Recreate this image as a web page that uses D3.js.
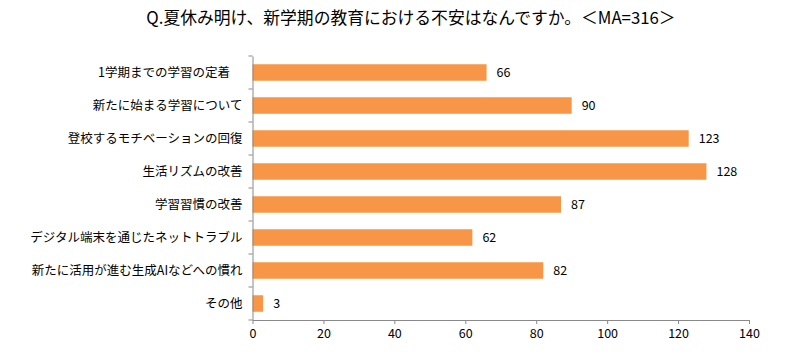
<!DOCTYPE html>
<html><head><meta charset="utf-8">
<script src="https://cdn.jsdelivr.net/npm/d3@7/dist/d3.min.js"></script>
<style>body{margin:0;background:#fff}svg{display:block}text{font-family:"Noto Sans CJK JP","Noto Sans",sans-serif;fill:#000}</style>
</head><body><svg id="c" width="791" height="357"></svg>
<script>
const title = "Q.夏休み明け、新学期の教育における不安はなんですか。＜MA=316＞";
const categories = ["1学期までの学習の定着　","新たに始まる学習について","登校するモチベーションの回復","生活リズムの改善","学習習慣の改善","デジタル端末を通じたネットトラブル","新たに活用が進む生成AIなどへの慣れ","その他"];
const values = [66,90,123,128,87,62,82,3];
const xTicks = [0,20,40,60,80,100,120,140];

const svg = d3.select("#c");
const x = d3.scaleLinear().domain([0,140]).range([252.5,749]);
const y = d3.scaleBand().domain(categories).range([56,320]).paddingInner(0.5).paddingOuter(0.25);

svg.append("text").attr("x",411).attr("y",24).attr("text-anchor","middle")
  .style("font-size","16.8px").text(title);

svg.selectAll("rect.bar").data(values).enter().append("rect")
  .attr("x",x(0)).attr("y",(d,i)=>y(categories[i]))
  .attr("width",d=>x(d)-x(0)).attr("height",y.bandwidth())
  .attr("fill","#F79646");

svg.selectAll("text.val").data(values).enter().append("text")
  .attr("x",d=>x(d)+10).attr("y",(d,i)=>y(categories[i])+y.bandwidth()/2)
  .attr("dy","0.35em").style("font-size","12.5px").text(d=>d);

const xa = svg.append("g").attr("transform","translate(0,320)")
  .call(d3.axisBottom(x).tickValues(xTicks).tickSize(4).tickSizeOuter(0).tickPadding(5));
xa.selectAll("line").attr("stroke","#898989");
xa.select(".domain").attr("stroke","#898989");
xa.selectAll("text").style("font-size","12.5px").style("font-family",'"Noto Sans CJK JP",sans-serif');

const yb = d3.scaleBand().domain(categories).range([56,320]);
const ya = svg.append("g").attr("transform","translate(252.5,0)")
  .call(d3.axisLeft(yb).tickSize(0).tickPadding(10));
ya.select(".domain").attr("stroke","#898989");
ya.selectAll("text").style("font-size","12.5px").style("font-family",'"Noto Sans CJK JP",sans-serif');
const bounds = d3.range(categories.length+1).map(i=>56+i*yb.step());
svg.selectAll("line.yt").data(bounds).enter().append("line")
  .attr("x1",248.5).attr("x2",252.5).attr("y1",d=>d).attr("y2",d=>d).attr("stroke","#898989");
</script></body></html>
